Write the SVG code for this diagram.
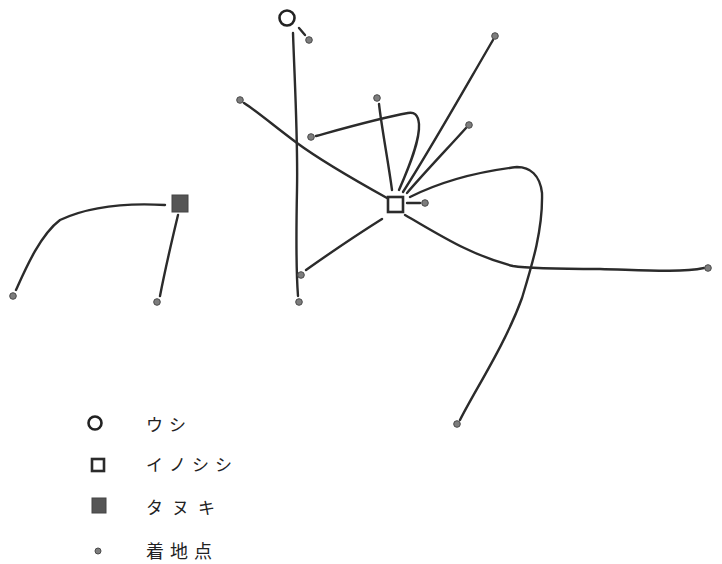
<svg xmlns="http://www.w3.org/2000/svg" width="722" height="564" viewBox="0 0 722 564">
<style>
.track{fill:none;stroke:#2b2b2b;stroke-width:2.4;stroke-linecap:round;stroke-linejoin:round}
.dot{fill:#7d7d7d;stroke:#4a4a4a;stroke-width:1}
.ox{fill:#fff;stroke:#222;stroke-width:2.6}
.boar{fill:#fff;stroke:#2b2b2b;stroke-width:2.6}
.tanuki{fill:#555;stroke:#444;stroke-width:1}
.lbl{font-family:"Noto Sans CJK JP","Noto Sans CJK SC",sans-serif;fill:#222}
</style>
<rect width="722" height="564" fill="#fff"/>
<g id="connectors">
<path class="track" d="M299,28 L305,35"/>
<path class="track" d="M293,33 C295,90 298,140 297,190 C296,240 296,270 298,296"/>
<path class="track" d="M387,198 C360,183 320,160 297,143 S258,112 244,103"/>
<path class="track" d="M392,190 C388,160 382,130 379,104"/>
<path class="track" d="M399,190 C410,165 420,140 419,124 C418,114 414,112 408,113 C380,118 345,128 316,136"/>
<path class="track" d="M403,192 C430,150 465,88 493,40"/>
<path class="track" d="M407,193 C425,172 448,148 466,128"/>
<path class="track" d="M410,197 C440,182 475,172 517,167 C530,167 540,175 542,193 C543,230 532,265 522,298 C505,345 475,390 460,420"/>
<path class="track" d="M407,203 L420,203"/>
<path class="track" d="M382,219 C355,236 330,253 306,270"/>
<path class="track" d="M405,215 C440,235 470,255 513,266 C530,269 570,269 600,269 C640,270 680,273 704,268"/>
<path class="track" d="M165,205 C130,203 90,206 60,220 C40,235 25,270 16,290"/>
<path class="track" d="M178,215 C172,240 165,270 160,296"/>
</g>
<g id="ox"><circle class="ox" cx="287" cy="18" r="7.5"/></g>
<g id="boar"><rect class="boar" x="388" y="197" width="15" height="15"/></g>
<g id="tanuki"><rect class="tanuki" x="172" y="195" width="16" height="17"/></g>
<g id="landing-points">
<circle class="dot" cx="309" cy="40" r="3.3"/>
<circle class="dot" cx="299" cy="302" r="3.3"/>
<circle class="dot" cx="240" cy="100" r="3.3"/>
<circle class="dot" cx="377" cy="98" r="3.3"/>
<circle class="dot" cx="311" cy="137" r="3.3"/>
<circle class="dot" cx="495" cy="36" r="3.3"/>
<circle class="dot" cx="469" cy="125" r="3.3"/>
<circle class="dot" cx="425" cy="203" r="3.3"/>
<circle class="dot" cx="301" cy="275" r="3.3"/>
<circle class="dot" cx="708" cy="268" r="3.3"/>
<circle class="dot" cx="457" cy="424" r="3.3"/>
<circle class="dot" cx="13" cy="296" r="3.3"/>
<circle class="dot" cx="157" cy="302" r="3.3"/>
</g>
<g id="legend">
<circle class="ox" cx="95" cy="423" r="6.5"/>
<text class="lbl" x="146" y="431" font-size="17" letter-spacing="6">ウシ</text>
<rect class="boar" x="92" y="459" width="12" height="12"/>
<text class="lbl" x="146" y="471" font-size="17" letter-spacing="6">イノシシ</text>
<rect class="tanuki" x="92" y="498" width="14" height="15"/>
<text class="lbl" x="146" y="514" font-size="17" letter-spacing="9">タヌキ</text>
<circle class="dot" cx="98" cy="551" r="3"/>
<text class="lbl" x="146" y="558" font-size="18" letter-spacing="6">着地点</text>
</g>
</svg>
